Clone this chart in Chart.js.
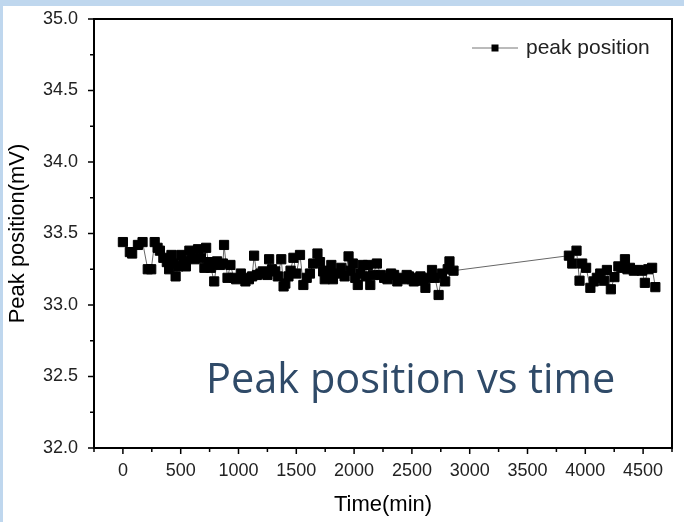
<!DOCTYPE html>
<html>
<head>
<meta charset="utf-8">
<script src="https://cdn.jsdelivr.net/npm/chart.js@4.4.4/dist/chart.umd.min.js"></script>
<style>
  html, body { margin: 0; padding: 0; background: #bfd7ee; }
  #frame { position: absolute; left: 3px; top: 6px; right: 0; bottom: 0; background: #fff; }
  #wrap { position: absolute; left: 0; top: 0; width: 684px; height: 522px; }
  #note { position: absolute; left: 206px; top: 357px; font-family: 'Open Sans', sans-serif; font-size: 41.5px;
          line-height: 1; color: #2f4a68; white-space: nowrap; }
</style>
</head>
<body>
<div id="frame"></div>
<div id="wrap"><canvas id="c" width="684" height="522"></canvas></div>
<div id="note">Peak position vs time</div>
<script>
// peak position readings
const seriesLabel = 'peak position';
const xTitle = 'Time(min)';
const yTitle = 'Peak position(mV)';

const timeMin = [
  0, 60, 80, 130, 170, 215, 245, 275, 300, 320, 350, 380, 400, 420, 440, 456, 480, 505, 525, 545,
  575, 600, 620, 650, 675, 705, 720, 740, 760, 790, 815, 840, 865, 875, 905, 930, 960, 980, 1020, 1040,
  1060, 1090, 1118, 1135, 1160, 1190, 1210, 1250, 1265, 1290, 1318, 1340, 1370, 1390, 1405, 1432, 1450, 1475, 1500, 1532,
  1561, 1590, 1618, 1646, 1683, 1705, 1732, 1746, 1775, 1803, 1817, 1850, 1889, 1918, 1952, 1970, 1989, 2010, 2032, 2055,
  2074, 2100, 2120, 2140, 2165, 2197, 2231, 2260, 2289, 2320, 2346, 2374, 2400, 2432, 2455, 2474, 2500, 2517, 2545, 2574,
  2600, 2617, 2645, 2674, 2700, 2731, 2760, 2788, 2810, 2825, 2860,
  3858, 3887, 3924, 3950, 3973, 4007, 4044, 4073, 4100, 4129, 4160, 4187, 4221, 4252, 4286, 4315, 4343, 4365, 4386, 4420,
  4457, 4490, 4515, 4545, 4578, 4606
];
const peakMv = [
  33.44, 33.37, 33.36, 33.42, 33.44, 33.25, 33.25, 33.44, 33.40, 33.38, 33.33, 33.30, 33.25, 33.35, 33.29, 33.20, 33.27, 33.35, 33.31, 33.27,
  33.38, 33.33, 33.32, 33.39, 33.33, 33.26, 33.40, 33.30, 33.26, 33.165, 33.305, 33.28, 33.29, 33.42, 33.19, 33.28, 33.19, 33.18, 33.22, 33.19,
  33.165, 33.18, 33.20, 33.345, 33.21, 33.22, 33.235, 33.21, 33.32, 33.25, 33.235, 33.20, 33.32, 33.13, 33.15, 33.20, 33.24, 33.33, 33.22, 33.35,
  33.14, 33.19, 33.22, 33.29, 33.36, 33.30, 33.235, 33.18, 33.24, 33.28, 33.18, 33.22, 33.26, 33.20, 33.34, 33.24, 33.29, 33.19, 33.14, 33.22,
  33.28, 33.20, 33.28, 33.14, 33.21, 33.29, 33.21, 33.19, 33.18, 33.22, 33.21, 33.165, 33.19, 33.18, 33.21, 33.20, 33.18, 33.165, 33.19, 33.20,
  33.17, 33.12, 33.19, 33.245, 33.19, 33.07, 33.22, 33.165, 33.25, 33.305, 33.24,
  33.345, 33.29, 33.38, 33.17, 33.29, 33.26, 33.12, 33.165, 33.19, 33.22, 33.17, 33.245, 33.11, 33.195, 33.27, 33.26, 33.32, 33.25, 33.26, 33.24,
  33.245, 33.24, 33.155, 33.25, 33.26, 33.125
];

const FONT = "'Liberation Sans', Arial, sans-serif";

// Origin-style box with outward major/minor ticks on the left and bottom axes
const axisFrame = {
  id: 'axisFrame',
  afterDraw(chart) {
    const { ctx, chartArea: a, scales: { x, y } } = chart;
    ctx.save();
    ctx.strokeStyle = '#000';
    ctx.lineWidth = 1.5;
    ctx.beginPath();
    x.ticks.forEach(t => {
      const px = x.getPixelForValue(t.value);
      const len = t.label !== '' ? 6 : 4;
      ctx.moveTo(px, a.bottom); ctx.lineTo(px, a.bottom + len);
    });
    y.ticks.forEach(t => {
      const py = y.getPixelForValue(t.value);
      const len = t.label !== '' ? 6 : 4;
      ctx.moveTo(a.left, py); ctx.lineTo(a.left - len, py);
    });
    ctx.stroke();
    ctx.lineWidth = 2;
    ctx.strokeRect(a.left, a.top, a.right - a.left, a.bottom - a.top);
    ctx.restore();
  }
};

// legend drawn inside the plot, top right: line - square - line, then label
const innerLegend = {
  id: 'innerLegend',
  afterDraw(chart) {
    const { ctx, chartArea: a } = chart;
    const ds = chart.data.datasets[0];
    const lx = a.right - 200, ly = a.top + 29;
    ctx.save();
    ctx.strokeStyle = '#777';
    ctx.lineWidth = 1;
    ctx.beginPath();
    ctx.moveTo(lx, ly); ctx.lineTo(lx + 46, ly);
    ctx.stroke();
    ctx.fillStyle = '#000';
    ctx.fillRect(lx + 23 - 3.5, ly - 3.5, 7, 7);
    ctx.fillStyle = '#222';
    ctx.font = '21px ' + FONT;
    ctx.textBaseline = 'middle';
    ctx.fillText(ds.label, lx + 54, ly);
    ctx.restore();
  }
};

const points = timeMin.map((t, i) => ({ x: t, y: peakMv[i] }));

new Chart(document.getElementById('c'), {
  type: 'line',
  data: {
    datasets: [{
      label: seriesLabel,
      data: points,
      borderColor: '#666',
      borderWidth: 1,
      tension: 0,
      fill: false,
      pointStyle: 'rect',
      pointRadius: 6.5,
      pointBackgroundColor: '#000',
      pointBorderColor: '#000',
      pointBorderWidth: 1
    }]
  },
  options: {
    responsive: false,
    animation: false,
    layout: { padding: { left: 0, top: 19, right: 7, bottom: 0 } },
    plugins: { legend: { display: false }, tooltip: { enabled: false } },
    scales: {
      x: {
        type: 'linear', min: -250, max: 4750,
        grid: { display: false, drawTicks: false },
        border: { display: false },
        ticks: {
          stepSize: 250, autoSkip: false, maxRotation: 0, padding: 12, color: '#222',
          font: { family: FONT, size: 18 },
          callback: v => (v >= 0 && v % 500 === 0) ? String(v) : ''
        },
        title: { display: true, text: xTitle, color: '#000', font: { family: FONT, size: 22 }, padding: { top: 0, bottom: 4 } },
        afterFit: s => { s.height = 74; }
      },
      y: {
        type: 'linear', min: 32, max: 35,
        grid: { display: false, drawTicks: false },
        border: { display: false },
        ticks: {
          stepSize: 0.25, autoSkip: false, padding: 16, color: '#222',
          font: { family: FONT, size: 18 },
          callback: v => Math.abs(v * 2 - Math.round(v * 2)) < 1e-6 ? v.toFixed(1) : ''
        },
        title: { display: true, text: yTitle, color: '#000', font: { family: FONT, size: 22 }, padding: { top: 5, bottom: 0 } },
        // keep the label padding from pushing the plot top down
        afterFit: s => { s.width = 94; s.paddingTop = 10; s.paddingBottom = 10; }
      }
    }
  },
  plugins: [axisFrame, innerLegend]
});
</script>
</body>
</html>
